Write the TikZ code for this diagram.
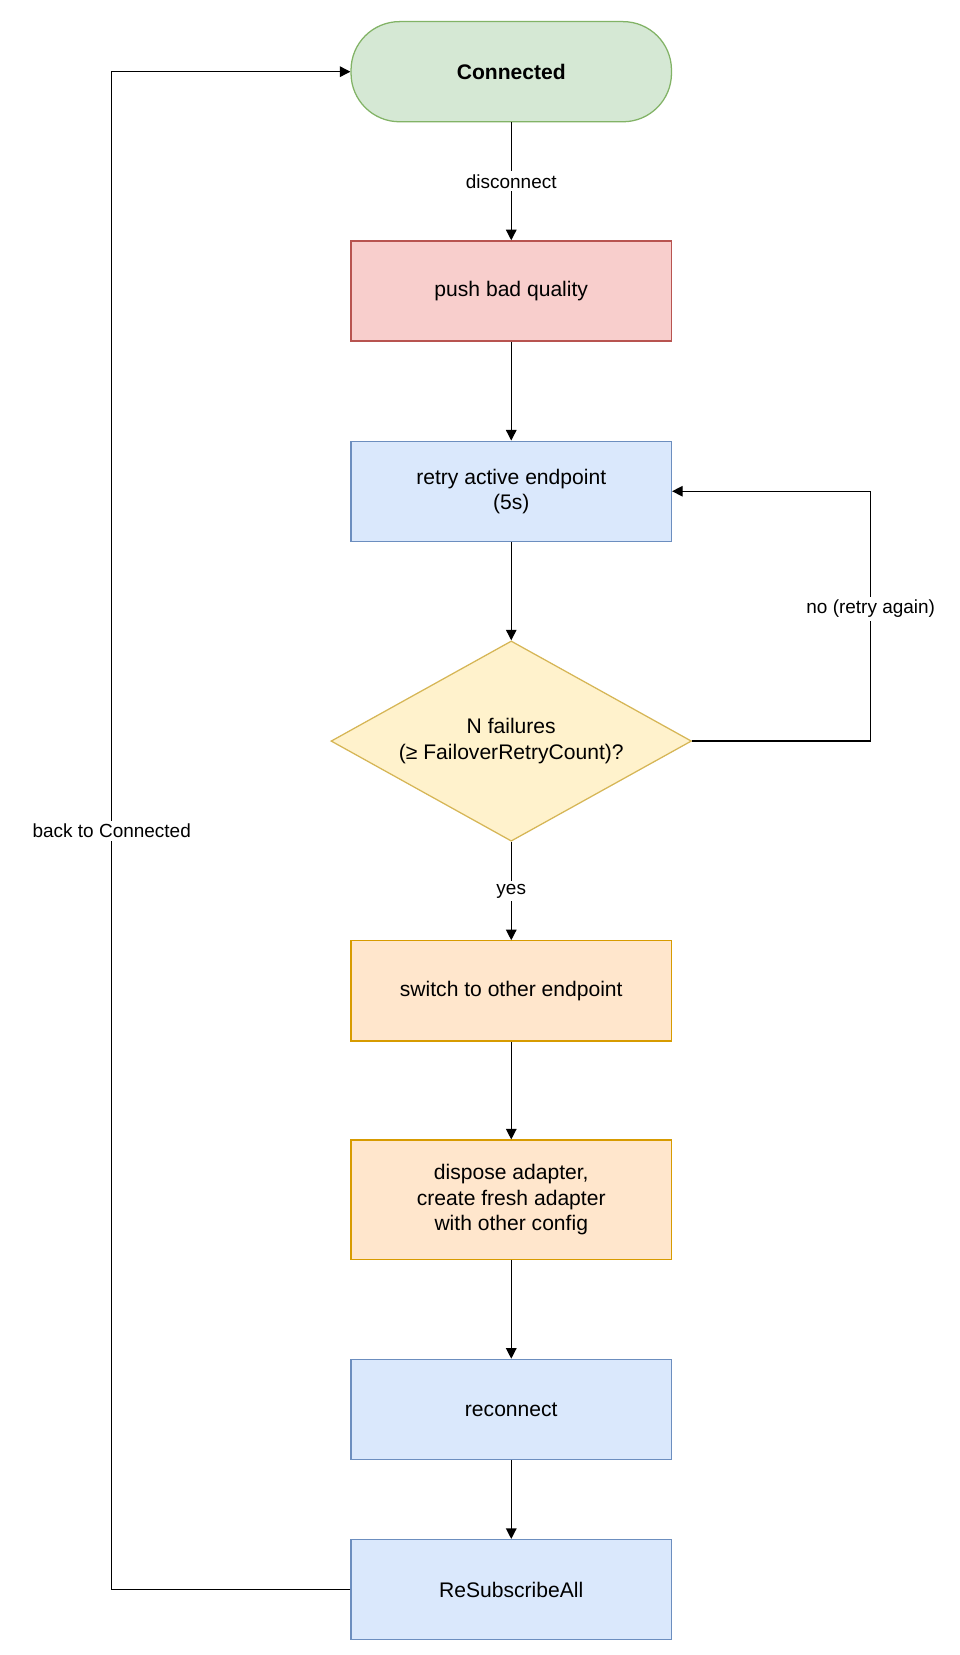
\documentclass[tikz,border=0pt]{standalone}
\usepackage{fontspec}
\setmainfont{Liberation Sans}
\usetikzlibrary{shapes.geometric,arrows.meta}
\definecolor{gF}{HTML}{D5E8D4}\definecolor{gS}{HTML}{82B366}
\definecolor{rF}{HTML}{F8CECC}\definecolor{rS}{HTML}{B85450}
\definecolor{bF}{HTML}{DAE8FC}\definecolor{bS}{HTML}{6C8EBF}
\definecolor{yF}{HTML}{FFF2CC}\definecolor{yS}{HTML}{D6B656}
\definecolor{oF}{HTML}{FFE6CC}\definecolor{oS}{HTML}{D79B00}
\begin{document}
\begin{tikzpicture}[x=0.5pt,y=-0.5pt,
  box/.style={draw, line width=0.6pt, minimum width=152pt, minimum height=47.5pt, align=center, font=\fontsize{10}{12}\selectfont, inner sep=0pt},
  arr/.style={draw, line width=0.6pt, -{Triangle[length=5pt,width=5pt]}},
  lbl/.style={fill=white, font=\fontsize{9}{11}\selectfont, inner sep=1.5pt}]
\useasboundingbox (0,0) rectangle (910,1570);
\node[box, rounded corners=23pt, fill=gF, draw=gS, font=\fontsize{10}{12}\selectfont\bfseries] (c) at (485,68) {Connected};
\node[box, fill=rF, draw=rS] (p) at (485,276) {push bad quality};
\node[box, fill=bF, draw=bS] (r) at (485,466) {retry active endpoint\\(5s)};
\node[diamond, aspect=1.8, draw=yS, fill=yF, line width=0.6pt, minimum width=171pt, minimum height=95pt, inner sep=0pt, align=center, font=\fontsize{10}{12}\selectfont] (d) at (485,703) {N failures\\(≥ FailoverRetryCount)?};
\node[box, fill=oF, draw=oS] (s) at (485,940) {switch to other endpoint};
\node[box, fill=oF, draw=oS, minimum height=56.5pt] (a) at (485,1138) {dispose adapter,\\create fresh adapter\\with other config};
\node[box, fill=bF, draw=bS] (re) at (485,1337) {reconnect};
\node[box, fill=bF, draw=bS] (rs) at (485,1508) {ReSubscribeAll};
\draw[arr] (c) -- node[lbl]{disconnect} (p);
\draw[arr] (p) -- (r);
\draw[arr] (r) -- (d);
\draw[arr] (d) -- node[lbl]{yes} (s);
\draw[arr] (s) -- (a);
\draw[arr] (a) -- (re);
\draw[arr] (re) -- (rs);
\coordinate (k1) at (826,703); \coordinate (k2) at (826,466);
\draw[arr] (d.east) -- (k1) -- node[lbl, pos=0.53]{no (retry again)} (k2) -- (r.east);
\coordinate (l1) at (106,1508); \coordinate (l2) at (106,68);
\draw[arr] (rs.west) -- (l1) -- node[lbl, pos=0.50]{back to Connected} (l2) -- (c.west);
\end{tikzpicture}
\end{document}
